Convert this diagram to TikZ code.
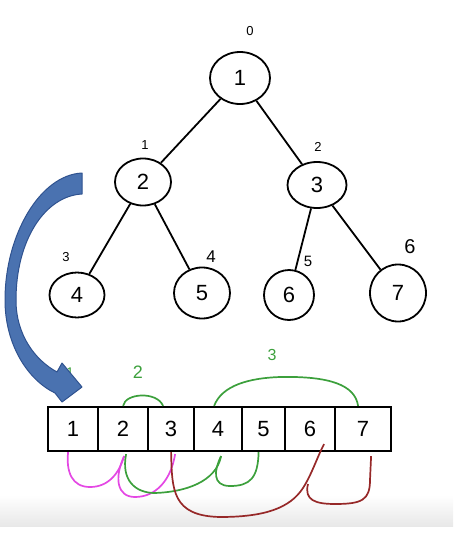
\documentclass[tikz,border=0pt]{standalone}
\usepackage{fontspec}
\setmainfont{Liberation Sans}
\usetikzlibrary{shapes.geometric}
\definecolor{pk}{RGB}{228,72,228}
\definecolor{gn}{RGB}{60,160,60}
\definecolor{bn}{RGB}{150,40,40}
\definecolor{arrfill}{RGB}{74,114,176}
\definecolor{arrline}{RGB}{47,82,143}
\begin{document}
\begin{tikzpicture}[x=1pt,y=-1pt,
  tnode/.style={draw=black,line width=1.8pt,ellipse,inner sep=0pt,font=\fontsize{22}{22}\selectfont},
  idx/.style={inner sep=0pt,font=\fontsize{13}{13}\selectfont},
  cell/.style={draw=black,line width=2.2pt,rectangle,inner sep=0pt,minimum height=44pt,anchor=west,font=\fontsize{22}{22}\selectfont},
  tedge/.style={line width=1.8pt},
  pkl/.style={draw=pk,line width=1.7pt},
  gnl/.style={draw=gn,line width=1.7pt},
  bnl/.style={draw=bn,line width=1.7pt},
  glabel/.style={text=gn,inner sep=0pt,font=\fontsize{18}{18}\selectfont},
  bigarrow/.style={fill=arrfill,draw=arrline,line width=1pt,line join=round}]
\useasboundingbox (0,0) rectangle (453,538);
\shade[top color=white,bottom color=black!9] (0,495) rectangle (453,526);
% tree
\node[tnode,minimum width=60pt,minimum height=52pt] (n1) at (240,78) {1};
\node[tnode,minimum width=56pt,minimum height=47pt] (n2) at (143,182) {2};
\node[tnode,minimum width=59pt,minimum height=46pt] (n3) at (317,185) {3};
\node[tnode,minimum width=55pt,minimum height=45pt] (n4) at (77,295) {4};
\node[tnode,minimum width=56pt,minimum height=51pt] (n5) at (202,293) {5};
\node[tnode,minimum width=50pt,minimum height=50pt] (n6) at (289,295) {6};
\node[tnode,minimum width=56pt,minimum height=57pt] (n7) at (398,293) {7};
\draw[tedge] (n1) -- (n2);
\draw[tedge] (n1) -- (n3);
\draw[tedge] (n2) -- (n4);
\draw[tedge] (n2) -- (n5);
\draw[tedge] (n3) -- (n6);
\draw[tedge] (n3) -- (n7);
% indices
\node[idx] (i0) at (250,31) {0};
\node[idx] (i1) at (145,145) {1};
\node[idx] (i2) at (318,147) {2};
\node[idx] (i3) at (66,257) {3};
\node[idx,font=\fontsize{17}{17}\selectfont] (i4) at (211,257) {4};
\node[idx,font=\fontsize{15}{15}\selectfont] (i5) at (308,261) {5};
\node[idx,font=\fontsize{20}{20}\selectfont] (i6) at (410,247) {6};
% array
\node[cell,minimum width=50pt] (c1) at (47,429) {1};
\node[cell,minimum width=50pt] (c2) at (97,429) {2};
\node[cell,minimum width=46pt] (c3) at (147,429) {3};
\node[cell,minimum width=48pt] (c4) at (193,429) {4};
\node[cell,minimum width=43pt] (c5) at (241,429) {5};
\node[cell,minimum width=50pt] (c6) at (284,429) {6};
\node[cell,minimum width=56pt] (c7) at (334,429) {7};
% green labels
\node[glabel,font=\fontsize{14}{14}\selectfont] (g1) at (70,373) {1};
\node[glabel] (g2) at (138,372) {2};
\node[glabel,font=\fontsize{16}{16}\selectfont] (g3) at (272,355) {3};
% green arcs above
\draw[gnl] (c2.north) .. controls (125,393) and (157,391) .. ([xshift=-8pt]c3.north);
\draw[gnl] ([xshift=-4pt]c4.north) .. controls (222,385) and (250,378) .. (280,377)
  .. controls (330,376) and (355,385) .. ([xshift=-5pt]c7.north);
% magenta
\draw[pkl] ([xshift=-5pt]c1.south) .. controls (66,472) and (72,487) .. (90,487)
  .. controls (108,487) and (119,474) .. ([xshift=1pt,yshift=-4pt]c2.south);
\draw[pkl] ([xshift=1pt,yshift=-4pt]c2.south) .. controls (114,478) and (117,497) .. (135,497)
  .. controls (156,497) and (171,480) .. ([xshift=4pt,yshift=-2pt]c3.south);
% green below
\draw[gnl] ([xshift=3pt,yshift=-2pt]c2.south) .. controls (121,480) and (135,493) .. (155,493)
  .. controls (185,492) and (216,482) .. ([xshift=3pt,yshift=-4pt]c4.south);
\draw[gnl] ([xshift=3pt,yshift=-4pt]c4.south) .. controls (214,470) and (212,486) .. (230,486)
  .. controls (250,486) and (258,478) .. ([xshift=-5pt]c5.south);
% brown
\draw[bnl] (c3.south) .. controls (172,490) and (172,516) .. (220,517)
  .. controls (265,517) and (290,508) .. (303,488)
  .. controls (312,474) and (318,455) .. ([xshift=14pt,yshift=8pt]c6.south);
\coordinate (b1) at (308,484);
\draw[bnl] (b1) .. controls (304,500) and (315,504) .. (335,504)
  .. controls (362,504) and (370,500) .. (370,480) -- ([xshift=8pt,yshift=-4pt]c7.south);
% big arrow
\path[bigarrow] (82,173) .. controls (40,175) and (5,235) .. (5,300)
  .. controls (5,345) and (28,380) .. (55,393) -- (62,402) -- (82,387) -- (62,363) -- (57,372)
  .. controls (35,360) and (16,335) .. (16,300)
  .. controls (16,240) and (45,196) .. (82,194) -- cycle;
\end{tikzpicture}
\end{document}
